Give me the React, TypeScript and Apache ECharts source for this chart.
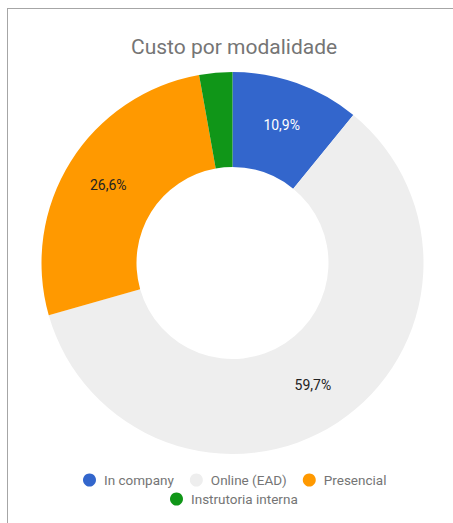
import React, { useEffect, useRef } from "react";
import * as echarts from "echarts";

const categories = ["In company", "Online (EAD)", "Presencial", "Instrutoria interna"];
const values = [10.9, 59.7, 26.6, 2.8];
const colors = ["#3366cc", "#eeeeee", "#ff9900", "#109618"];
const labelColors = ["#ffffff", "#222222", "#222222", "#222222"];

export default function App() {
  const ref = useRef<HTMLDivElement>(null);
  useEffect(() => {
    if (!ref.current) return;
    const chart = echarts.init(ref.current, undefined, { renderer: "svg" });
    const font = "Roboto, Arial, sans-serif";
    const legendText = { fontFamily: font, fontSize: 13.5, color: "#757575", padding: [0, 0, 0, 3] };
    chart.setOption({
      animation: false,
      title: {
        text: "Custo por modalidade",
        left: 126,
        top: 31,
        textStyle: { fontFamily: font, fontSize: 21, fontWeight: "normal", color: "#757575" },
      },
      legend: [
        {
          data: categories.slice(0, 3),
          top: 468,
          left: 78,
          icon: "circle",
          itemWidth: 13,
          itemHeight: 13,
          itemGap: 16,
          textStyle: legendText,
        },
        {
          data: categories.slice(3),
          top: 487,
          left: 165,
          icon: "circle",
          itemWidth: 13,
          itemHeight: 13,
          textStyle: legendText,
        },
      ],
      series: [
        {
          type: "pie",
          center: [232.5, 263],
          radius: [96, 191],
          startAngle: 90,
          clockwise: true,
          avoidLabelOverlap: false,
          label: {
            show: true,
            position: "inside",
            rotate: 0,
            fontFamily: font,
            fontSize: 14,
            formatter: (p: any) => p.value.toFixed(1).replace(".", ",") + "%",
          },
          labelLine: { show: false },
          emphasis: { disabled: true },
          itemStyle: { borderWidth: 0 },
          data: categories.map((c, i) => ({
            name: c,
            value: values[i],
            itemStyle: { color: colors[i] },
            label: {
              color: labelColors[i],
              show: i !== 3,
              padding: i === 0 ? [0, 0, 10, 0] : 0,
            },
          })),
        },
      ],
    });
    return () => chart.dispose();
  }, []);
  return (
    <div style={{ position: "fixed", left: 0, top: 0, width: 453, height: 523, background: "#fff" }}>
      <div
        style={{
          position: "absolute",
          left: 7,
          top: 8,
          width: 460,
          height: 530,
          borderTop: "1px solid #a6a6a6",
          borderLeft: "1px solid #a6a6a6",
          boxSizing: "border-box",
        }}
      />
      <div ref={ref} style={{ position: "absolute", left: 0, top: 0, width: 453, height: 523 }} />
    </div>
  );
}
